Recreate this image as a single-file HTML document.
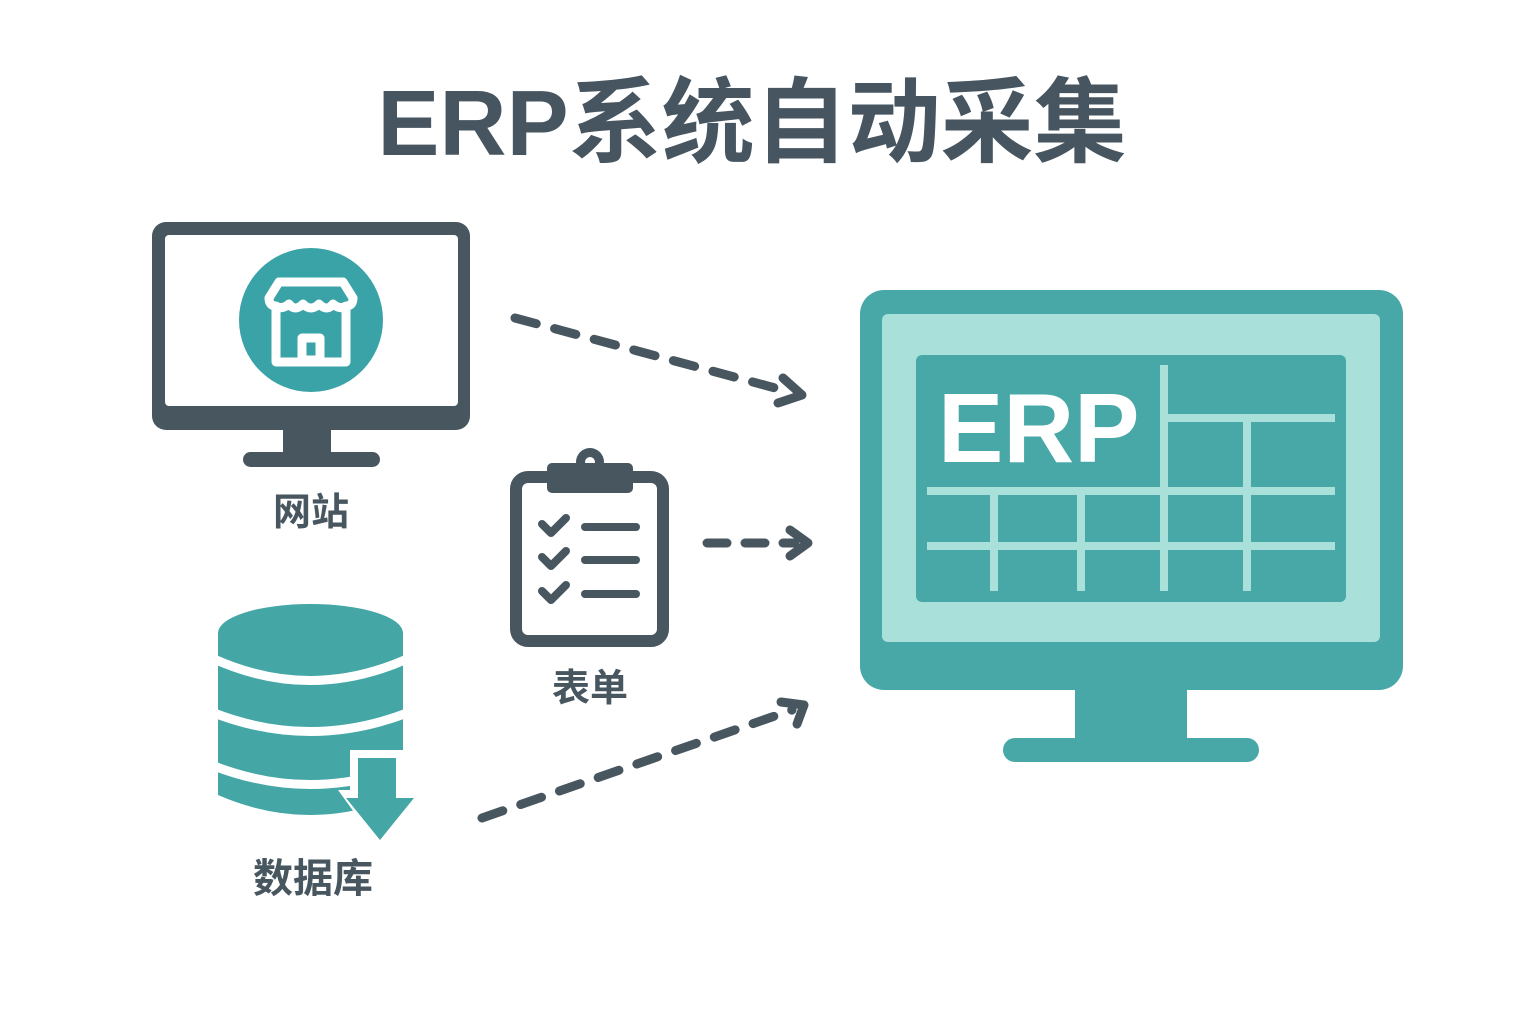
<!DOCTYPE html>
<html><head><meta charset="utf-8"><style>
html,body{margin:0;padding:0;background:#fff}
svg{display:block}
text{font-family:"Liberation Sans","Noto Sans CJK SC",sans-serif;font-weight:bold}
</style></head><body>
<svg width="1536" height="1024" viewBox="0 0 1536 1024" xmlns="http://www.w3.org/2000/svg">
<rect width="1536" height="1024" fill="#fff"/>
<text x="752" y="155" font-size="93" fill="#46555f" text-anchor="middle">ERP系统自动采集</text>

<!-- left monitor -->
<rect x="152" y="222" width="318" height="208" rx="14" fill="#47565f"/>
<rect x="165" y="235" width="293" height="171" rx="4" fill="#fff"/>
<rect x="283" y="428" width="48" height="28" fill="#47565f"/>
<rect x="243" y="452" width="137" height="15" rx="7.5" fill="#47565f"/>
<circle cx="311" cy="320" r="72" fill="#3aa3a8"/>
<g fill="none" stroke="#fff" stroke-width="9" stroke-linejoin="round">
<path d="M276 306 L276 362 L346 362 L346 306"/>
<path d="M269 298 L279 282 L343 282 L353 298 Q353 306 346 306 Q340 310 333 304 Q327 312 319 304 Q311 312 303 304 Q295 312 289 304 Q282 310 276 306 Q269 306 269 298Z"/>
<rect x="302" y="338" width="18" height="22"/>
</g>

<!-- clipboard -->
<rect x="516" y="477" width="147" height="164" rx="12" fill="#fff" stroke="#47565f" stroke-width="12"/>
<circle cx="590" cy="462" r="14" fill="#47565f"/><circle cx="590" cy="462" r="5" fill="#fff"/>
<rect x="547" y="463" width="86" height="30" rx="5" fill="#47565f"/>
<g stroke="#47565f" stroke-width="8" stroke-linecap="round" fill="none" stroke-linejoin="round">
<path d="M542 524 L551 533 L566 518"/><path d="M542 557 L551 566 L566 551"/><path d="M542 591 L551 600 L566 585"/>
<line x1="585" y1="527" x2="636" y2="527"/><line x1="585" y1="560" x2="636" y2="560"/><line x1="585" y1="594" x2="636" y2="594"/>
</g>

<!-- database -->
<path d="M218 633 L403 633 L403 795 Q310 835 218 795 Z" fill="#45a6a6"/>
<ellipse cx="310.5" cy="633" rx="92.5" ry="29" fill="#45a6a6"/>
<g fill="none" stroke="#fff" stroke-width="9">
<path d="M214 659 Q310 702 407 659"/>
<path d="M214 713 Q310 750 407 713"/>
<path d="M214 766 Q310 803 407 766"/>
</g>
<path d="M350 750 L403 750 L403 790 L422 790 L380 848 L338 790 L350 790Z" fill="#fff"/>
<path d="M358 758 L396 758 L396 798 L414 798 L380 840 L346 798 L358 798Z" fill="#45a6a6"/>

<text x="311" y="525" font-size="38" fill="#47565f" text-anchor="middle">网站</text>
<text x="590" y="701" font-size="38" fill="#47565f" text-anchor="middle">表单</text>
<text x="313" y="892" font-size="40" fill="#47565f" text-anchor="middle">数据库</text>

<!-- arrows -->
<g stroke="#47565f" stroke-width="9" stroke-linecap="round" fill="none" stroke-linejoin="round">
<line x1="515" y1="318" x2="790" y2="392" stroke-dasharray="22 19"/>
<path d="M783 378 L802 395 L778 403"/>
<line x1="707" y1="543" x2="795" y2="543" stroke-dasharray="20 18"/>
<path d="M790 530 L808 543 L790 556"/>
<line x1="482" y1="818" x2="792" y2="710" stroke-dasharray="22 19"/>
<path d="M781 702 L804 705 L797 724"/>
</g>

<!-- right monitor -->
<rect x="860" y="290" width="543" height="400" rx="24" fill="#48a8a8"/>
<rect x="882" y="314" width="498" height="328" rx="6" fill="#a9e0da"/>
<rect x="916" y="355" width="430" height="247" rx="6" fill="#48a8a8"/>
<rect x="1075" y="688" width="112" height="52" fill="#48a8a8"/>
<rect x="1003" y="738" width="256" height="24" rx="12" fill="#48a8a8"/>
<g stroke="#a9e0da" stroke-width="8">
<line x1="1164" y1="365" x2="1164" y2="591"/>
<line x1="1164" y1="418" x2="1335" y2="418"/>
<line x1="927" y1="491" x2="1335" y2="491"/>
<line x1="927" y1="546" x2="1335" y2="546"/>
<line x1="1247" y1="418" x2="1247" y2="591"/>
<line x1="994" y1="491" x2="994" y2="591"/>
<line x1="1081" y1="491" x2="1081" y2="591"/>
</g>
<text x="938" y="462" font-size="98" fill="#fff">ERP</text>
</svg>
</body></html>
